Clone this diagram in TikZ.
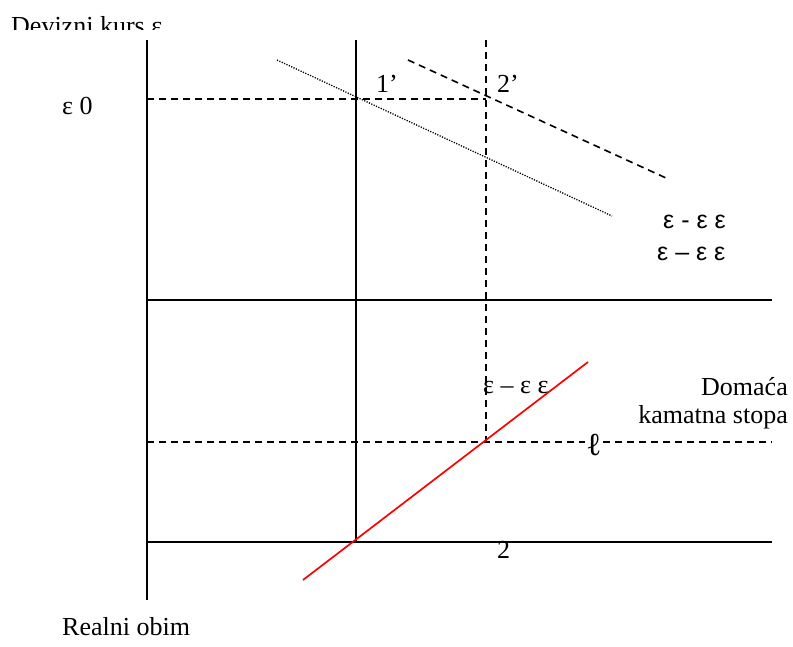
\documentclass[tikz,border=0pt]{standalone}
\usepackage{fontspec}
\setmainfont{Liberation Serif}
\newfontfamily\arialfont{Liberation Sans}
\begin{document}
\begin{tikzpicture}[x=1pt,y=-1pt,
  axis/.style={line width=1.7pt,black},
  dashln/.style={line width=1.6pt,dash pattern=on 7pt off 5pt},
  dotln/.style={line width=1.3pt,dash pattern=on 1.2pt off 1.4pt},
  redln/.style={line width=1.7pt,red},
  lbl/.style={inner sep=0pt,font=\fontsize{26}{30}\selectfont},
  slbl/.style={inner sep=0pt,font=\arialfont\fontsize{25}{29}\selectfont}]
\useasboundingbox (0,0) rectangle (793,647);
% coordinates
\coordinate (axT) at (147,40);
\coordinate (axB) at (147,600);
\coordinate (h1L) at (147,300);
\coordinate (h1R) at (772,300);
\coordinate (h2L) at (147,542);
\coordinate (h2R) at (772,542);
\coordinate (vT) at (356,40);
\coordinate (vB) at (356,542);
\coordinate (dvT) at (486,40);
\coordinate (dvB) at (486,442);
\coordinate (d0L) at (147,99);
\coordinate (d0R) at (486,99);
\coordinate (diL) at (147,442);
\coordinate (diR) at (772,442);
\coordinate (dotA) at (277,60);
\coordinate (dotB) at (612,216);
\coordinate (dshA) at (408,60);
\coordinate (dshB) at (666,178);
\coordinate (redA) at (303,580);
\coordinate (redB) at (588,362);
% lines
\draw[axis] (axT) -- (axB);
\draw[axis] (h1L) -- (h1R);
\draw[axis] (h2L) -- (h2R);
\draw[axis] (vT) -- (vB);
\draw[dashln] (dvT) -- (dvB);
\draw[dashln] (d0L) -- (d0R);
\draw[dashln] (diL) -- (diR);
\draw[dotln] (dotA) -- (dotB);
\draw[dashln] (dshA) -- (dshB);
\draw[redln] (redA) -- (redB);
% labels
\begin{scope}
\clip (0,0) rectangle (793,29.5);
\node[lbl,anchor=base west] (ylab) at (11,35) {Devizni kurs ε};
\end{scope}
\node[lbl,anchor=west] (e0) at (62,106) {ε 0};
\node[lbl,anchor=west] (p1) at (376,84) {1’};
\node[lbl,anchor=west] (p2) at (497,84) {2’};
\node[slbl,anchor=west] (s1) at (663,222) {ε - ε ε};
\node[slbl,anchor=west] (s2) at (657,254) {ε – ε ε};
\node[lbl,anchor=west] (m1) at (483,388) {ε – ε ε};
\node[lbl,anchor=east] (dom) at (788,387) {Domaća};
\node[lbl,anchor=east] (kam) at (788,417) {kamatna stopa};
\node[lbl,anchor=west,fill=white,inner xsep=1pt,font=\fontsize{32}{34}\selectfont] (ell) at (585,445) {ℓ};
\node[lbl,anchor=north west] (two) at (497,541) {2};
\node[lbl,anchor=west] (xlab) at (62,627) {Realni obim};
\end{tikzpicture}
\end{document}
